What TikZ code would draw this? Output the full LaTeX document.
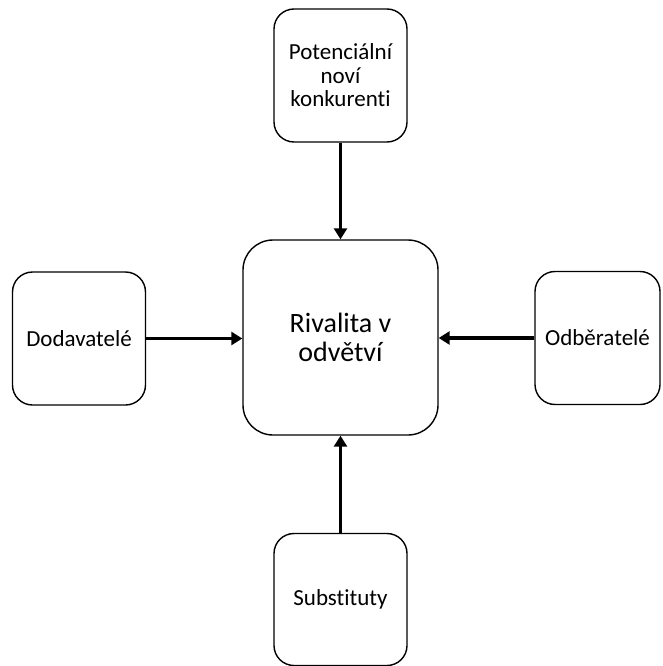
\documentclass[tikz,border=0pt]{standalone}
\usepackage{fontspec}
\setmainfont{Carlito}[Ligatures=NoCommon]
\usetikzlibrary{arrows.meta}
\begin{document}
\begin{tikzpicture}[x=1pt,y=-1pt,
  box/.style={draw, line width=1.4pt, rounded corners=20pt, inner sep=0pt,
    align=center, font=\fontsize{23}{23.5}\selectfont,
    minimum width=133pt, minimum height=133pt},
  force/.style={line width=3.4pt, -{Triangle[width=13pt,length=11pt]}}]
\useasboundingbox (0,0) rectangle (662,666);
% central force
\node[box, minimum width=195pt, minimum height=195pt, rounded corners=30pt,
  font=\fontsize{28}{29}\selectfont] (rival) at (340.5,337.5) {Rivalita v\\odvětví};
% surrounding forces
\node[box] (entrants) at (340.5,75.5) {Potenciální\\noví\\konkurenti};
\node[box] (suppliers) at (79,338.5) {Dodavatelé};
\node[box, minimum width=125pt] (buyers) at (597.5,338) {Odběratelé};
\node[box, minimum height=132pt] (subst) at (340.5,599.5) {Substituty};
% influences
\draw[force] (entrants) -- (rival);
\draw[force] (subst) -- (rival);
\draw[force] (suppliers.east) -- (suppliers.east -| rival.west);
\draw[force] (buyers.west) -- (buyers.west -| rival.east);
\end{tikzpicture}
\end{document}
